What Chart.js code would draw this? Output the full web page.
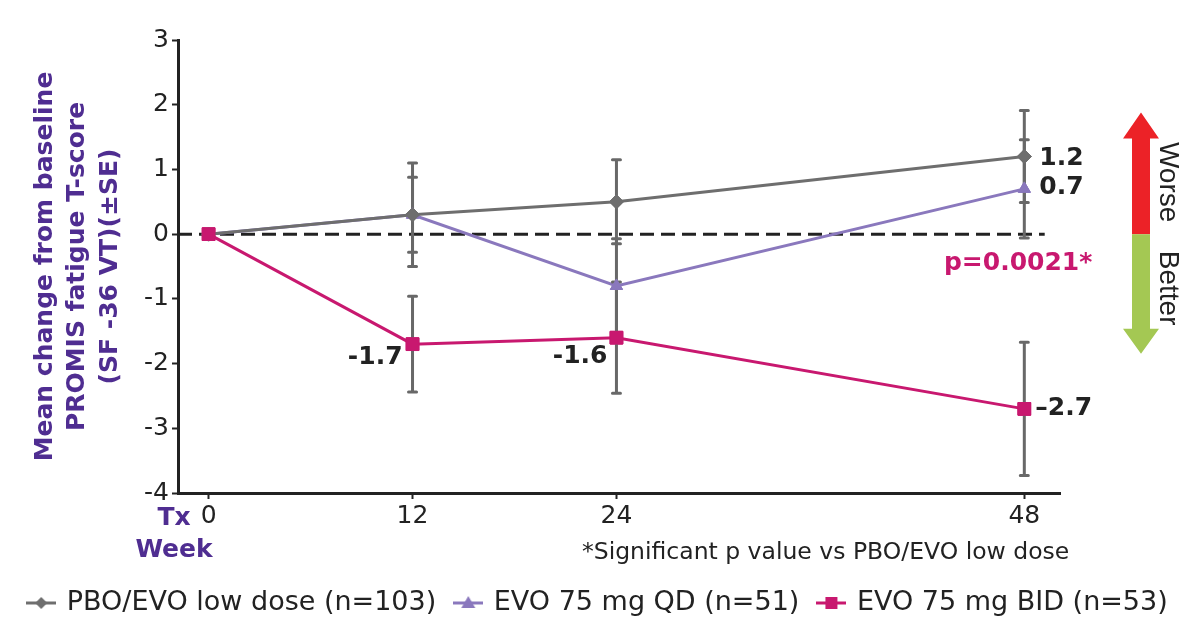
<!DOCTYPE html>
<html>
<head>
<meta charset="utf-8">
<script src="https://cdn.jsdelivr.net/npm/chart.js@4.4.1/dist/chart.umd.min.js"></script>
<style>
body { margin: 0; background: #fff; }
#wrap { width: 1197px; height: 620px; }
</style>
</head>
<body>
<div id="wrap"><canvas id="chart" width="1197" height="620"></canvas></div>
<script>
// weeks on treatment
const weeks = [0, 12, 24, 48]
const xTicks = [0, 12, 24, 48]

// mean change from baseline and SE
const pboMean = [0, 0.3, 0.5, 1.2]
const pboSE = [0, 0.8, 0.65, 0.71]
const qdMean = [0, 0.3, -0.8, 0.7]
const qdSE = [0, 0.58, 0.73, 0.76]
const bidMean = [0, -1.7, -1.6, -2.7]
const bidSE = [0, 0.74, 0.86, 1.03]

const seriesNames = ['PBO/EVO low dose (n=103)', 'EVO 75 mg QD (n=51)', 'EVO 75 mg BID (n=53)']
const yTitle = ['Mean change from baseline', 'PROMIS fatigue T-score', '(SF -36 VT)(±SE)']

// labels written next to points
const labelWeeks = [48, 48, 12, 24, 48, 48]
const labelValues = [1.2, 0.7, -1.7, -1.6, -2.7, -0.45]
const labelTexts = ['1.2', '0.7', '-1.7', '-1.6', '\u20132.7', 'p=0.0021*']

const footnote = '*Significant p value vs PBO/EVO low dose'

const GRAY = '#6e6e6e'
const PURPLE = '#8a78bd'
const MAGENTA = '#c8186f'
const TITLE = '#4f2d91'
const INK = '#222'

function toPoints(means) {
    return weeks.map((w, i) => ({ x: w, y: means[i] }))
}

// little line + marker images for the legend
function legendIcon(color, shape) {
    let c = document.createElement('canvas')
    c.width = 30
    c.height = 18
    let g = c.getContext('2d')
    g.strokeStyle = color
    g.fillStyle = color
    g.lineWidth = 3
    g.beginPath(); g.moveTo(0, 9); g.lineTo(30, 9); g.stroke()
    g.beginPath()
    if (shape == 'diamond') {
        g.moveTo(15, 3); g.lineTo(21, 9); g.lineTo(15, 15); g.lineTo(9, 9)
    } else if (shape == 'triangle') {
        g.moveTo(15, 2); g.lineTo(22, 14); g.lineTo(8, 14)
    } else {
        g.rect(9, 3, 12, 12)
    }
    g.closePath()
    g.fill()
    return c
}

const errorBars = {
    id: 'errorBars',
    afterDatasetsDraw(chart) {
        const ctx = chart.ctx
        const xs = chart.scales.x, ys = chart.scales.y
        ctx.save()
        ctx.strokeStyle = '#686868'
        ctx.lineWidth = 3
        ctx.lineCap = 'round'
        chart.data.datasets.forEach(ds => {
            if (!ds.errors) return
            ds.data.forEach((p, j) => {
                const e = ds.errors[j]
                if (!e) return
                const x = xs.getPixelForValue(p.x)
                const top = ys.getPixelForValue(p.y + e)
                const bot = ys.getPixelForValue(p.y - e)
                ctx.beginPath()
                ctx.moveTo(x, top); ctx.lineTo(x, bot)
                ctx.moveTo(x - 4, top); ctx.lineTo(x + 4, top)
                ctx.moveTo(x - 4, bot); ctx.lineTo(x + 4, bot)
                ctx.stroke()
            })
        })
        ctx.restore()
        // put the markers back over the bars (QD, then PBO, BID on top)
        ;[1, 0, 2].forEach(i => {
            chart.getDatasetMeta(i).data.forEach(pt => pt.draw(ctx, chart.chartArea))
        })
    }
}

const labelStyle = [
    { dx: 15, dy: 2, align: 'left', color: INK },
    { dx: 15, dy: -1, align: 'left', color: INK },
    { dx: -10, dy: 13, align: 'right', color: INK },
    { dx: -9, dy: 19, align: 'right', color: INK },
    { dx: 11, dy: 0, align: 'left', color: INK },
    { dx: 68, dy: 0, align: 'right', color: MAGENTA }
]

const extras = {
    id: 'extras',
    afterDraw(chart) {
        const ctx = chart.ctx
        const xs = chart.scales.x, ys = chart.scales.y
        const area = chart.chartArea
        ctx.save()
        ctx.textBaseline = 'middle'
        ctx.font = 'bold 25px "DejaVu Sans"'
        labelTexts.forEach((t, i) => {
            const s = labelStyle[i]
            ctx.fillStyle = s.color
            ctx.textAlign = s.align
            ctx.fillText(t, xs.getPixelForValue(labelWeeks[i]) + s.dx, ys.getPixelForValue(labelValues[i]) + s.dy)
        })

        // Tx / Week under the axis
        ctx.fillStyle = TITLE
        ctx.textAlign = 'center'
        ctx.font = 'bold 25px "DejaVu Sans"'
        ctx.fillText('Tx', area.left - 4, area.bottom + 25)
        ctx.fillText('Week', area.left - 4, area.bottom + 57)

        ctx.fillStyle = INK
        ctx.textAlign = 'left'
        ctx.font = '23.5px "DejaVu Sans"'
        ctx.fillText(footnote, 582, area.bottom + 60)

        // worse / better arrow
        const ax = area.right + 81
        const y0 = ys.getPixelForValue(0)
        const yTop = ys.getPixelForValue(1.88)
        const yBot = ys.getPixelForValue(-1.85)
        ctx.fillStyle = '#ec2227'
        ctx.beginPath()
        ctx.moveTo(ax - 9, y0); ctx.lineTo(ax - 9, yTop + 26); ctx.lineTo(ax - 18, yTop + 26)
        ctx.lineTo(ax, yTop); ctx.lineTo(ax + 18, yTop + 26); ctx.lineTo(ax + 9, yTop + 26)
        ctx.lineTo(ax + 9, y0); ctx.closePath(); ctx.fill()
        ctx.fillStyle = '#a4c853'
        ctx.beginPath()
        ctx.moveTo(ax - 9, y0); ctx.lineTo(ax - 9, yBot - 25); ctx.lineTo(ax - 18, yBot - 25)
        ctx.lineTo(ax, yBot); ctx.lineTo(ax + 18, yBot - 25); ctx.lineTo(ax + 9, yBot - 25)
        ctx.lineTo(ax + 9, y0); ctx.closePath(); ctx.fill()

        ctx.fillStyle = INK
        ctx.font = '28px "Liberation Sans"'
        ctx.textAlign = 'center'
        ctx.translate(ax + 27, y0)
        ctx.rotate(Math.PI / 2)
        ctx.fillText('Worse', -52, 0)
        ctx.fillText('Better', 54, 0)
        ctx.restore()
    }
}

const data = {
    datasets: [{
        label: seriesNames[0],
        data: toPoints(pboMean),
        errors: pboSE,
        borderColor: GRAY,
        backgroundColor: GRAY,
        borderWidth: 3,
        pointStyle: 'rectRot',
        pointRadius: 7,
        pointBorderWidth: 1,
        icon: legendIcon(GRAY, 'diamond')
    }, {
        label: seriesNames[1],
        data: toPoints(qdMean),
        errors: qdSE,
        borderColor: PURPLE,
        backgroundColor: PURPLE,
        borderWidth: 3,
        pointStyle: 'triangle',
        pointRadius: 7,
        pointBorderWidth: 1,
        icon: legendIcon(PURPLE, 'triangle')
    }, {
        label: seriesNames[2],
        data: toPoints(bidMean),
        errors: bidSE,
        borderColor: MAGENTA,
        backgroundColor: MAGENTA,
        borderWidth: 3,
        pointStyle: 'rect',
        pointRadius: 9,
        pointBorderWidth: 1,
        icon: legendIcon(MAGENTA, 'square')
    }, {
        label: 'zero',
        data: [{ x: -1.8, y: 0 }, { x: 49.2, y: 0 }],
        borderColor: INK,
        borderWidth: 3,
        borderDash: [14, 7],
        pointRadius: 0
    }]
}

const config = {
    type: 'line',
    data: data,
    options: {
        responsive: false,
        animation: false,
        layout: { padding: { top: 40, right: 0, left: 0, bottom: -6.5 } },
        elements: { line: { tension: 0 } },
        scales: {
            x: {
                type: 'linear',
                min: -1.8,
                max: 50.1,
                afterBuildTicks: s => { s.ticks = xTicks.map(v => ({ value: v })) },
                afterFit: s => { s.height = 76.5 },
                border: { display: true, color: INK, width: 3 },
                grid: { drawOnChartArea: false, drawTicks: true, tickLength: 6, tickColor: INK, tickWidth: 2 },
                ticks: { color: INK, font: { family: 'DejaVu Sans', size: 25 }, padding: 2, maxRotation: 0 }
            },
            y: {
                min: -4,
                max: 3,
                afterFit: s => { s.width = 178 },
                border: { display: true, color: INK, width: 3 },
                grid: { drawOnChartArea: false, drawTicks: true, tickLength: 6, tickColor: INK, tickWidth: 2 },
                ticks: { stepSize: 1, color: INK, font: { family: 'DejaVu Sans', size: 25 }, padding: 3 },
                title: {
                    display: true,
                    text: yTitle,
                    color: TITLE,
                    font: { family: 'DejaVu Sans', size: 25, weight: 'bold', lineHeight: 1.3 },
                    padding: { top: 29, bottom: 0 }
                }
            },
            // empty strip on the right for the arrow
            side: {
                position: 'right',
                afterFit: s => { s.width = 137 },
                border: { display: false },
                grid: { display: false },
                ticks: { display: false }
            }
        },
        plugins: {
            tooltip: { enabled: false },
            legend: {
                position: 'bottom',
                labels: {
                    usePointStyle: true,
                    pointStyleWidth: 24,
                    color: INK,
                    font: { family: 'DejaVu Sans', size: 27 },
                    padding: 20,
                    generateLabels: chart => chart.data.datasets.slice(0, 3).map((ds, i) => ({
                        text: ds.label,
                        pointStyle: ds.icon,
                        fillStyle: ds.borderColor,
                        strokeStyle: ds.borderColor,
                        lineWidth: 0,
                        fontColor: INK,
                        datasetIndex: i
                    }))
                }
            }
        }
    },
    plugins: [errorBars, extras]
}

const myChart = new Chart(document.getElementById('chart'), config)
</script>
</body>
</html>
